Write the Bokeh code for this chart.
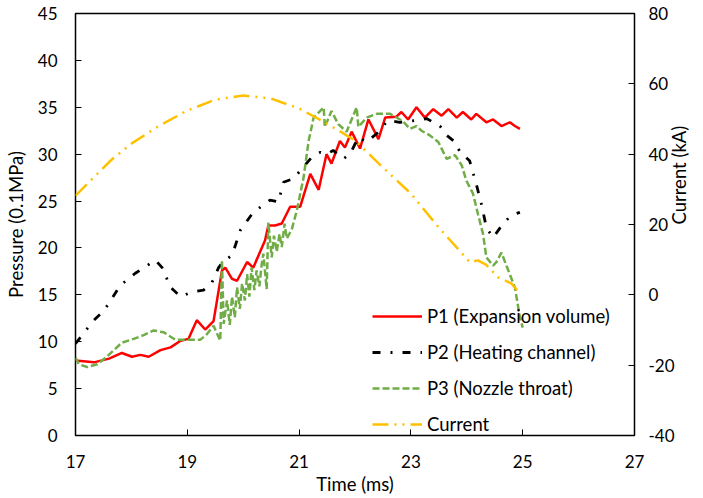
from bokeh.plotting import figure
from bokeh.models import Range1d, LinearAxis, Legend, LegendItem, FixedTicker
from bokeh.embed import file_html
from bokeh.resources import INLINE
import math

# ---- data ----
t_p1 = [17.0, 17.33, 17.6, 17.83, 18.01, 18.16, 18.31, 18.52, 18.70, 18.88, 19.02, 19.17, 19.32,
        19.47, 19.62, 19.68, 19.80, 19.89, 20.07, 20.18, 20.39, 20.45, 20.57, 20.69, 20.84, 21.02,
        21.2, 21.35, 21.49, 21.58, 21.73, 21.82, 21.94, 22.09, 22.24, 22.42, 22.54, 22.74, 22.83,
        22.95, 23.10, 23.25, 23.40, 23.55, 23.67, 23.82, 23.93, 24.08, 24.17, 24.35, 24.47, 24.62,
        24.77, 24.86, 24.95]
p1 = [8.0, 7.8, 8.2, 8.8, 8.4, 8.6, 8.4, 9.1, 9.4, 10.1, 10.3, 12.3, 11.3,
      12.2, 17.6, 17.9, 16.7, 16.5, 18.5, 17.9, 20.8, 22.4, 22.4, 22.6, 24.4, 24.4,
      27.9, 26.2, 30.0, 29.0, 31.4, 30.7, 32.4, 30.6, 33.7, 31.6, 33.9, 34.0, 34.5,
      33.7, 35.0, 33.9, 34.8, 34.1, 34.8, 33.9, 34.5, 33.7, 34.3, 33.4, 33.7, 33.0,
      33.4, 33.0, 32.7]

t_p2 = [17.0, 17.33, 17.51, 17.80, 18.07, 18.43, 18.55, 18.70, 18.88, 19.08, 19.29, 19.44, 19.56,
        19.65, 19.80, 19.95, 20.18, 20.48, 20.63, 20.72, 20.90, 21.23, 21.38, 21.49, 21.61, 21.79,
        21.91, 22.06, 22.21, 22.39, 22.59, 22.80, 23.10, 23.28, 23.52, 23.64, 23.79, 23.88, 24.05,
        24.17, 24.26, 24.35, 24.47, 24.65, 24.80, 24.95]
p2 = [9.8, 12.3, 13.3, 16.0, 17.3, 18.7, 17.9, 15.8, 14.8, 15.3, 15.5, 16.3, 17.9,
      18.6, 19.2, 21.9, 23.8, 25.1, 24.9, 27.0, 27.4, 29.7, 30.2, 30.0, 30.4, 29.5,
      30.0, 31.8, 31.3, 32.2, 33.6, 33.4, 33.6, 33.8, 33.0, 32.0, 31.3, 30.2, 29.3,
      26.8, 24.7, 22.2, 21.1, 22.6, 23.5, 23.8]

t_p3 = [17.0, 17.06, 17.21, 17.39, 17.54, 17.83, 18.04, 18.22, 18.40, 18.58, 18.79, 18.99, 19.23,
        19.35, 19.47, 19.59, 19.62, 19.65, 19.71, 19.76, 19.80, 19.85, 19.89, 19.94, 19.98, 20.03,
        20.07, 20.11, 20.15, 20.20, 20.24, 20.29, 20.33, 20.36, 20.42, 20.45, 20.51, 20.55, 20.60,
        20.65, 20.69, 20.74, 20.78, 20.87, 20.96, 21.08, 21.17, 21.26, 21.44, 21.46, 21.58, 21.70,
        21.85, 22.03, 22.06, 22.21, 22.39, 22.63, 22.86, 22.98, 23.10, 23.19, 23.34, 23.49, 23.64,
        23.79, 23.91, 23.99, 24.11, 24.20, 24.29, 24.35, 24.47, 24.53, 24.62, 24.71, 24.86, 24.95,
        25.0]
p3 = [8.3, 7.6, 7.3, 7.6, 8.3, 9.9, 10.3, 10.7, 11.2, 11.0, 10.2, 10.2, 10.2,
      10.8, 11.7, 10.1, 18.7, 11.9, 14.4, 11.8, 14.8, 12.6, 15.8, 13.5, 16.2, 14.4,
      17.2, 14.8, 17.9, 15.5, 17.6, 15.9, 18.2, 19.4, 15.6, 22.7, 19.0, 21.3, 19.6,
      21.5, 20.1, 22.6, 21.0, 22.0, 24.0, 27.5, 31.4, 33.9, 35.0, 32.9, 34.6, 33.2,
      32.4, 35.0, 32.9, 33.9, 34.3, 34.3, 33.5, 32.7, 33.0, 32.5, 32.0, 31.3, 29.5,
      29.9, 28.8, 27.2, 25.8, 23.6, 21.5, 19.0, 18.1, 18.5, 19.5, 18.1, 15.8, 12.6,
      11.5]

t_cur = [17.0, 17.63, 18.0, 18.5, 19.0, 19.5, 20.0, 20.5, 21.0, 21.5, 22.0, 22.5, 23.0, 23.5,
         23.96, 24.05, 24.2, 24.35, 24.56, 24.8, 24.95]
cur = [28.2, 38.2, 43.0, 48.1, 52.4, 55.5, 56.7, 55.8, 53.0, 48.7, 43.9, 36.2, 28.8, 19.1,
       11.0, 9.3, 9.8, 8.5, 5.0, 3.2, 0.4]

x_ticks = [17, 19, 21, 23, 25, 27]
p_ticks = [0, 5, 10, 15, 20, 25, 30, 35, 40, 45]
c_ticks = [-40, -20, 0, 20, 40, 60, 80]
c_tick_labels = ["-40", "-20", "0", "20", "40", "60", "80"]

names = ["P1 (Expansion volume)", "P2 (Heating channel)", "P3 (Nozzle throat)", "Current"]

FONT = "Lato"
FS = "17px"
FS_L = "18.5px"

p = figure(width=703, height=498, output_backend="svg", toolbar_location=None,
           x_range=Range1d(17, 27), y_range=Range1d(0, 45),
           min_border_left=75, min_border_right=68, min_border_top=13, min_border_bottom=63)
p.extra_y_ranges = {"cur": Range1d(-40, 80)}

p.xgrid.visible = False
p.ygrid.visible = False
p.outline_line_color = "black"
p.outline_line_width = 1.5
p.background_fill_color = "white"
p.border_fill_color = "white"

r1 = p.line(t_p1, p1, line_color="#FF0000", line_width=2.5)
r2 = p.line(t_p2, p2, line_color="black", line_width=2.8, line_dash="8 10 2 10")
r3 = p.line(t_p3, p3, line_color="#70AD47", line_width=2.5, line_dash="7 3")
r4 = p.line(t_cur, cur, line_color="#FFC000", line_width=2.5, line_dash="16 6 2 6 2 6",
            y_range_name="cur")

right = LinearAxis(y_range_name="cur", axis_label="Current (kA)")
p.add_layout(right, "right")

p.xaxis.axis_label = "Time (ms)"
p.yaxis[0].axis_label = "Pressure (0.1MPa)"
p.xaxis.ticker = FixedTicker(ticks=x_ticks)
p.yaxis[0].ticker = FixedTicker(ticks=p_ticks)
right.ticker = FixedTicker(ticks=c_ticks)
right.major_label_overrides = {v: s for v, s in zip(c_ticks, c_tick_labels)}

for ax in [p.xaxis[0], p.yaxis[0], right]:
    ax.axis_line_color = None
    ax.major_tick_in = 6
    ax.major_tick_out = 0
    ax.minor_tick_line_color = None
    ax.major_tick_line_color = "black"
    ax.major_tick_line_width = 1
    ax.major_label_text_font = FONT
    ax.major_label_text_font_size = FS
    ax.major_label_text_color = "black"
    ax.axis_label_text_font = FONT
    ax.axis_label_text_font_size = FS_L
    ax.axis_label_text_font_style = "normal"
    ax.axis_label_text_color = "black"

p.xaxis.major_label_standoff = 19
p.xaxis.axis_label_standoff = 2
p.yaxis[0].major_label_standoff = 18
p.yaxis[0].axis_label_standoff = 8
right.major_label_standoff = 14
right.axis_label_standoff = 1
right.axis_label_orientation = math.pi / 2

legend = Legend(items=[LegendItem(label=n, renderers=[r]) for n, r in zip(names, [r1, r2, r3, r4])],
                location=(297, 0), orientation="vertical",
                glyph_width=50, glyph_height=20, label_height=20, spacing=14,
                padding=0, margin=0, label_standoff=5,
                border_line_alpha=0, background_fill_alpha=0,
                label_text_font=FONT, label_text_font_size=FS_L, label_text_color="black")
p.add_layout(legend, "center")

open("out.html", "w").write(file_html(p, INLINE))
